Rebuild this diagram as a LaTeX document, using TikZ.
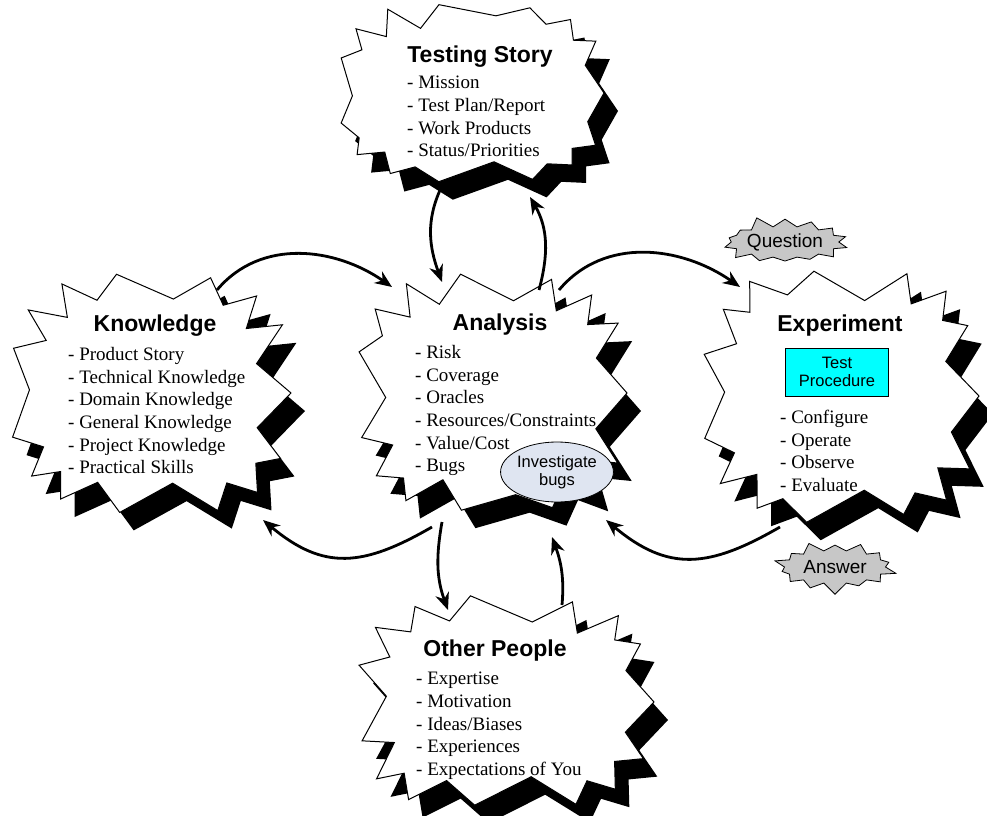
\documentclass[tikz,border=0pt]{standalone}
\usepackage{fontspec}
\setmainfont{Liberation Serif}
\setsansfont{Liberation Sans}
\usetikzlibrary{arrows.meta}
\usetikzlibrary{shapes.symbols, shapes.geometric}
\definecolor{bugBlue}{RGB}{223,229,241}
\definecolor{procCyan}{RGB}{0,255,255}

% burst: name, centre, x radius, y radius, points, seed, spike depth
\newcommand{\burstOutline}[5]{(#1,0) \foreach \k [evaluate = \k as \ang using {\k*180/#3+3*rnd-1.5}, evaluate = \k as \dep using {ifthenelse(mod(\k,2)==0, 5*rnd, #4+14*rnd)}, evaluate = \k as \cx using {cos(\ang)*pow(abs(cos(\ang))+0.001,-0.35)}, evaluate = \k as \cy using {sin(\ang)*pow(abs(sin(\ang))+0.001,-0.35)}] in {1,...,#5} { -- ({(#1-\dep)*\cx}, {(#2-\dep)*\cy}) } -- cycle}
\newcommand{\burst}[7]{%
	\pgfmathtruncatemacro{\burstLast}{2*#5-1}
	\pgfmathsetseed{#6}
	\fill[black, shift = {(#2)}, xshift = 14pt, yshift = -18pt] \burstOutline{#3}{#4}{#5}{#7}{\burstLast};
	\pgfmathsetseed{#6}
	\filldraw[burstStyle, shift = {(#2)}] \burstOutline{#3}{#4}{#5}{#7}{\burstLast};
	\coordinate (#1) at (#2);
}

\begin{document}
\begin{tikzpicture}[x = 1pt, y = 1pt]
	\tikzstyle{burstStyle}=[draw = black, fill = white, line width = 1pt, line join = miter]
	\tikzstyle{smallBurstStyle}=[shape = starburst, starburst points = 14, starburst point height = 12pt, draw, line width = 0.8pt, fill = black!22, inner sep = 0pt, font = \sffamily\fontsize{19}{22}\selectfont]
	\tikzstyle{titleStyle}=[anchor = base, inner sep = 0pt, font = \sffamily\bfseries\fontsize{23}{27}\selectfont]
	\tikzstyle{listStyle}=[anchor = north west, inner sep = 0pt, align = left, font = \fontsize{19}{22.7}\selectfont]
	\tikzstyle{noteStyle}=[draw, line width = 0.8pt, inner sep = 0pt, align = center, font = \sffamily\fontsize{16.5}{18.5}\selectfont]
	\tikzstyle{arrowStyle}=[-{Stealth[length = 17pt, width = 14pt]}, line width = 2.8pt]
	\useasboundingbox (0,0) rectangle (987,815);
	% the five bursts
	\burst{story}{471,722}{133}{92}{15}{11}{12}
	\burst{knowledge}{150,422}{141}{122}{15}{23}{20}
	\burst{analysis}{491,422}{136}{122}{15}{37}{20}
	\burst{experiment}{840,419}{139}{127}{15}{41}{20}
	\burst{people}{505,113}{149}{108}{15}{53}{20}
	\node[smallBurstStyle, minimum width = 124pt, minimum height = 55pt, random starburst = 5] (question) at (785,573) {Question};
	\node[smallBurstStyle, minimum width = 125pt, minimum height = 57pt, random starburst = 9] (answer) at (835,248) {Answer};
	\node[noteStyle, fill = procCyan, minimum width = 103pt, minimum height = 48pt] (proc) at (837,443) {Test\\Procedure};
	\node[noteStyle, shape = ellipse, fill = bugBlue, minimum width = 110pt, minimum height = 60pt] (bugs) at (557,343) {Investigate\\bugs};
	% titles and lists
	\node[titleStyle] (storyTitle) at (480,752) {Testing Story};
	\node[listStyle] (storyList) at (407,739) {- Mission\\- Test Plan/Report\\- Work Products\\- Status/Priorities};
	\node[titleStyle] (knowledgeTitle) at (155,483) {Knowledge};
	\node[listStyle] (knowledgeList) at (68,468) {- Product Story\\- Technical Knowledge\\- Domain Knowledge\\- General Knowledge\\- Project Knowledge\\- Practical Skills};
	\node[titleStyle] (analysisTitle) at (500,484) {Analysis};
	\node[listStyle] (analysisList) at (415,470) {- Risk\\- Coverage\\- Oracles\\- Resources/Constraints\\- Value/Cost\\- Bugs};
	\node[titleStyle] (experimentTitle) at (840,483) {Experiment};
	\node[listStyle] (experimentList) at (780,405) {- Configure\\- Operate\\- Observe\\- Evaluate};
	\node[titleStyle] (peopleTitle) at (495,159) {Other People};
	\node[listStyle] (peopleList) at (416,143) {- Expertise\\- Motivation\\- Ideas/Biases\\- Experiences\\- Expectations of You};
	% arrows
	\draw[arrowStyle] ([xshift = 67pt, yshift = 103pt]knowledge) to[out = 50, in = 145] ([xshift = -99pt, yshift = 106pt]analysis);
	\draw[arrowStyle] ([xshift = 68pt, yshift = 103pt]analysis) to[out = 50, in = 145] ([xshift = -100pt, yshift = 109pt]experiment);
	\draw[arrowStyle] ([xshift = -59pt, yshift = -134pt]analysis) to[out = -150, in = -40, looseness = 1.2] ([xshift = 113pt, yshift = -127pt]knowledge);
	\draw[arrowStyle] ([xshift = -60pt, yshift = -131pt]experiment) to[out = -150, in = -40, looseness = 1.2] ([xshift = 115pt, yshift = -127pt]analysis);
	\draw[arrowStyle] ([xshift = -30pt, yshift = -95pt]story) to[out = -115, in = 110] ([xshift = -49pt, yshift = 111pt]analysis);
	\draw[arrowStyle] ([xshift = 48pt, yshift = 103pt]analysis) to[out = 75, in = -60] ([xshift = 59pt, yshift = -104pt]story);
	\draw[arrowStyle] ([xshift = -49pt, yshift = -129pt]analysis) to[out = -100, in = 110] ([xshift = -57pt, yshift = 92pt]people);
	\draw[arrowStyle] ([xshift = 57pt, yshift = 97pt]people) to[out = 85, in = -70] ([xshift = 61pt, yshift = -144pt]analysis);
\end{tikzpicture}
\end{document}
